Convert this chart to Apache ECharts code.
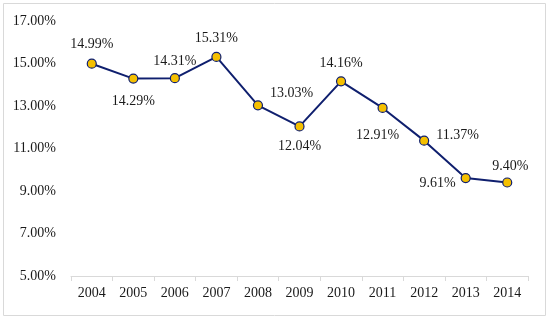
<!DOCTYPE html>
<html><head><meta charset="utf-8">
<script src="https://cdn.jsdelivr.net/npm/echarts@6/dist/echarts.min.js"></script>
<style>html,body{margin:0;padding:0;background:#fff}#c{width:550px;height:320px}</style>
</head><body><div id="c"></div>
<script>
const years = ['2004','2005','2006','2007','2008','2009','2010','2011','2012','2013','2014'];
const rates = [14.99,14.29,14.31,15.31,13.03,12.04,14.16,12.91,11.37,9.61,9.40];
const labelPos = ['top','bottom','top','top','right','bottom','top','bottom','right','left','top'];
const labelOffset = [[0,0],[0,4],[0,2],[0,1],[0,-12],[0,1],[0,1],[-5,8],[0,-5],[2,5],[3,3]];
const yTicks = {min:5, max:17, interval:2};

const chart = echarts.init(document.getElementById('c'));
const font = '"Liberation Serif","Times New Roman",serif';
chart.setOption({
  animation:false,
  graphic:[{type:'rect',shape:{x:3.5,y:3.5,width:542,height:312},style:{fill:'none',stroke:'#d9d9d9',lineWidth:1}}],
  grid:{left:71,right:22,top:21,bottom:44},
  xAxis:{type:'category',data:years,boundaryGap:true,
    axisLine:{lineStyle:{color:'#d9d9d9'}},
    axisTick:{show:true,lineStyle:{color:'#d9d9d9'},length:5},
    axisLabel:{color:'#1a1a1a',fontFamily:font,fontSize:14,margin:10}},
  yAxis:{type:'value',min:yTicks.min,max:yTicks.max,interval:yTicks.interval,
    splitLine:{show:false},axisLine:{show:false},axisTick:{show:false},
    axisLabel:{color:'#1a1a1a',fontFamily:font,fontSize:14,margin:15,formatter:v=>v.toFixed(2)+'%'}},
  series:[{type:'line',data:rates.map((v,i)=>({value:v,label:{position:labelPos[i],offset:labelOffset[i]}})),
    symbol:'circle',symbolSize:9,
    lineStyle:{color:'#0f1f6e',width:2},
    itemStyle:{color:'#f5c000',borderColor:'#0f1f6e',borderWidth:1.2},
    label:{show:true,fontFamily:font,fontSize:14,color:'#1a1a1a',distance:7,formatter:p=>p.value.toFixed(2)+'%'}}]
});
</script></body></html>
